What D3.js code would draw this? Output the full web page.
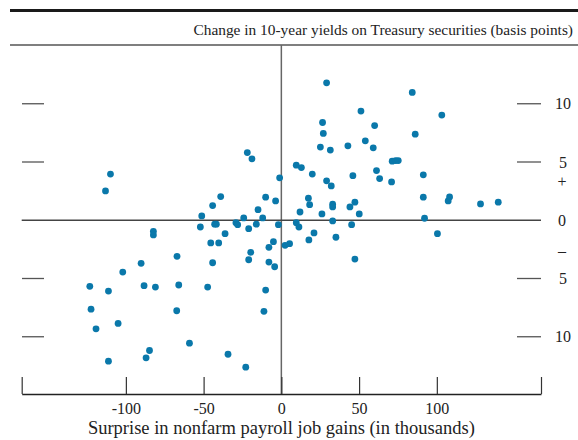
<!DOCTYPE html>
<html>
<head>
<meta charset="utf-8">
<script src="https://cdn.jsdelivr.net/npm/d3@7"></script>
<style>
  html, body { margin: 0; padding: 0; background: #fff; }
  svg { display: block; }
  text { font-family: "Liberation Serif", "Times New Roman", serif; fill: #222; }
</style>
</head>
<body>
<svg id="chart" width="578" height="440"></svg>
<script>
// Surprise in nonfarm payroll job gains (thousands)
const surprise = [
  29.1, 84.2, 51.2, 103.2, 26.5, 27.0, 60.0, 86.1, 54.0, 25.1,
  31.5, 42.8, 59.1, 71.3, 73.5, 75.2, 9.6, 12.9, 19.9, 46.0,
  61.2, 63.2, 70.9, 91.3, 29.1, 32.1, 91.3, 17.4, 18.2, 33.0,
  33.0, 47.3, 44.1, 108.2, 107.3, 128.1, 139.5, 12.0, 26.1, 50.1,
  9.6, 11.3, 33.0, 45.2, 92.1, 100.4, 21.0, 17.7, 35.1, 5.3,
  47.3, -21.9, -18.9, -109.9, -113.1, -1.1, -39.0, -44.2, -10.1, -3.7,
  -15.0, -51.2, -52.1, -42.9, -41.8, -36.2, -29.2, -28.1, -24.2, -21.0,
  -16.1, -12.0, -1.9, -82.3, -82.3, -45.4, -40.3, -5.1, -8.0, 2.4,
  -19.7, -21.0, -44.2, -67.1, -90.2, -8.0, -4.3, -102.0, -123.2, -111.2,
  -88.3, -81.0, -66.0, -47.4, -10.1, -122.4, -67.3, -11.2, -105.0, -119.2,
  -59.1, -84.8, -87.0, -34.3, -111.2, -22.9
];
// Change in 10-year Treasury yields (basis points)
const yieldChange = [
  11.8, 10.97, 9.37, 9.03, 8.39, 7.45, 8.13, 7.39, 6.82, 6.28,
  6.02, 6.39, 6.22, 5.07, 5.12, 5.12, 4.73, 4.52, 3.96, 3.83,
  4.26, 3.58, 3.29, 3.90, 3.38, 2.95, 1.98, 1.89, 1.34, 1.38,
  1.14, 1.55, 1.14, 2.0, 1.66, 1.40, 1.55, 0.71, 0.54, 0.54,
  -0.21, -0.58, -0.06, -0.38, 0.17, -1.15, -1.09, -1.69, -1.46, -2.01,
  -3.33, 5.81, 5.27, 3.96, 2.52, 3.64, 2.03, 1.26, 1.98, 1.66,
  0.91, 0.37, -0.58, -0.34, -0.34, -1.15, -0.21, -0.38, 0.2, -0.72,
  -0.34, 0.2, -0.38, -0.95, -1.26, -1.95, -1.95, -1.84, -2.32, -2.15,
  -2.75, -3.39, -3.65, -3.10, -3.70, -3.59, -3.99, -4.45, -5.67, -6.08,
  -5.62, -5.74, -5.56, -5.74, -5.99, -7.63, -7.77, -7.82, -8.86, -9.32,
  -10.55, -11.18, -11.81, -11.50, -12.10, -12.61
];
const xTickValues = [-100, -50, 0, 50, 100];
const xTickLabels = ["-100", "-50", "0", "50", "100"];
const yTickValues = [10, 5, -5, -10];
const yTickLabels = ["10", "5", "5", "10"];
const title = "Change in 10-year yields on Treasury securities (basis points)";
const xTitle = "Surprise in nonfarm payroll job gains (in thousands)";

const svg = d3.select("#chart");
const x = d3.scaleLinear().domain([-167, 167]).range([21.7, 541]);
const y = d3.scaleLinear().domain([-15, 15]).range([395, 45.5]);

// Header rules and title
svg.append("line").attr("x1", 10).attr("x2", 578).attr("y1", 10.5).attr("y2", 10.5)
  .attr("stroke", "#1a1a1a").attr("stroke-width", 3);
svg.append("line").attr("x1", 10).attr("x2", 578).attr("y1", 45).attr("y2", 45)
  .attr("stroke", "#555").attr("stroke-width", 1.3);
svg.append("text").attr("x", 573).attr("y", 35).attr("text-anchor", "end")
  .attr("font-size", 15.4).text(title);

// Vertical zero line
svg.append("line").attr("x1", x(0)).attr("x2", x(0)).attr("y1", 45).attr("y2", 394)
  .attr("stroke", "#666").attr("stroke-width", 1.5);
// Horizontal zero line
svg.append("line").attr("x1", x(-167)).attr("x2", x(167)).attr("y1", y(0)).attr("y2", y(0))
  .attr("stroke", "#444").attr("stroke-width", 1.3);

// Left & right dashes
const dashG = svg.append("g");
yTickValues.forEach((v, i) => {
  dashG.append("line").attr("x1", 22).attr("x2", 44).attr("y1", y(v)).attr("y2", y(v))
    .attr("stroke", "#555").attr("stroke-width", 1.3);
  dashG.append("line").attr("x1", 517).attr("x2", 541).attr("y1", y(v)).attr("y2", y(v))
    .attr("stroke", "#555").attr("stroke-width", 1.3);
  dashG.append("text").attr("x", 563).attr("y", y(v)).attr("dy", "0.35em")
    .attr("text-anchor", "middle").attr("font-size", 16).text(yTickLabels[i]);
});
dashG.append("text").attr("x", 562).attr("y", y(0)).attr("dy", "0.35em")
  .attr("text-anchor", "middle").attr("font-size", 16).text("0");
dashG.append("text").attr("x", 562).attr("y", y(3.3)).attr("dy", "0.35em")
  .attr("text-anchor", "middle").attr("font-size", 16).attr("fill", "#444").text("+");
dashG.append("text").attr("x", 562).attr("y", y(-2.6)).attr("dy", "0.35em")
  .attr("text-anchor", "middle").attr("font-size", 16).attr("fill", "#444").text("\u2013");

// Bottom axis
const xAxis = d3.axisBottom(x)
  .tickValues([-167, ...xTickValues, 167])
  .tickSize(-17).tickSizeOuter(0)
  .tickFormat(d => { const i = xTickValues.indexOf(d); return i >= 0 ? xTickLabels[i] : ""; });
const gx = svg.append("g").attr("transform", "translate(0,394)").call(xAxis);
gx.select(".domain").attr("stroke", "#222").attr("stroke-width", 1.3);
gx.selectAll(".tick line").attr("stroke", "#333").attr("stroke-width", 1.2);
gx.selectAll(".tick text").attr("font-family", "Liberation Serif, serif")
  .attr("font-size", 16).attr("fill", "#222").attr("y", 9).attr("dy", "0.71em");
svg.append("text").attr("x", x(0)).attr("y", 434).attr("text-anchor", "middle")
  .attr("font-size", 18.5).text(xTitle);

// Points
svg.append("g").selectAll("circle")
  .data(surprise.map((s, i) => [s, yieldChange[i]]))
  .join("circle")
  .attr("cx", d => x(d[0])).attr("cy", d => y(d[1]))
  .attr("r", 3.4).attr("fill", "#0a78aa");
</script>
</body>
</html>
